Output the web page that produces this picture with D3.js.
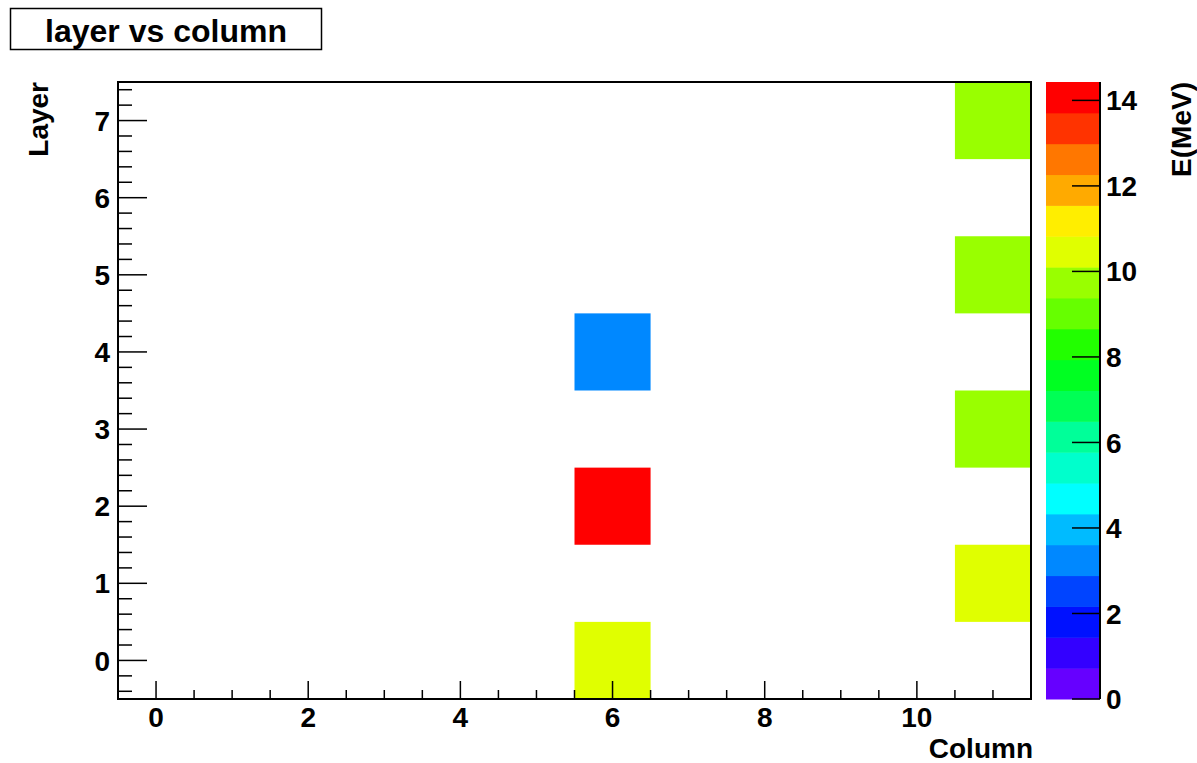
<!DOCTYPE html>
<html>
<head>
<meta charset="utf-8">
<script src="https://cdn.jsdelivr.net/npm/d3@7"></script>
<style>
  body { margin: 0; background: #fff; }
  svg text { font-family: "Liberation Sans", Arial, sans-serif; font-weight: bold; fill: #000; }
</style>
</head>
<body>
<div class="visual"></div>
<script>
// hits: column, layer, energy (MeV)
const columns = [6, 6, 6, 11, 11, 11, 11];
const layers = [0, 2, 4, 1, 3, 5, 7];
const energies = [10.4, 14.43, 3.2, 10.5, 9.8, 9.7, 9.9];

const xTicks = [0, 2, 4, 6, 8, 10];
const yTicks = [0, 1, 2, 3, 4, 5, 6, 7];
const zTicks = [0, 2, 4, 6, 8, 10, 12, 14];

// 20 contour colours, lowest first
const palette = [
    "#6600ff", "#3300ff", "#0011ff", "#0044ff", "#0088ff",
    "#00bbff", "#00ffff", "#00ffcc", "#00ff99", "#00ff55",
    "#00ff22", "#22ff00", "#66ff00", "#99ff00", "#e0ff00",
    "#ffee00", "#ffaa00", "#ff7700", "#ff3300", "#ff0000"
];

const W = 1197, H = 763;
const frame = { left: 118, right: 1031, top: 82, bottom: 699 };
const bar = { left: 1046, right: 1100 };

const svg = d3.select(".visual").append("svg")
    .attr("width", W)
    .attr("height", H);

const x = d3.scaleLinear().domain([-0.5, 11.5]).range([frame.left, frame.right]);
const y = d3.scaleLinear().domain([-0.5, 7.5]).range([frame.bottom, frame.top]);
const zMax = d3.max(energies);
const z = d3.scaleLinear().domain([0, zMax]).range([frame.bottom, frame.top]);

function colorOf(v) {
    let i = Math.floor(v / zMax * palette.length);
    if (i >= palette.length) i = palette.length - 1;
    return palette[i];
}

const cells = columns.map((c, i) => ({ col: c, layer: layers[i], e: energies[i] }));

// cells
svg.append("g").selectAll("rect")
    .data(cells)
    .enter()
    .append("rect")
    .attr("x", d => x(d.col - 0.5))
    .attr("y", d => y(d.layer + 0.5))
    .attr("width", d => x(d.col + 0.5) - x(d.col - 0.5))
    .attr("height", d => y(d.layer - 0.5) - y(d.layer + 0.5))
    .attr("fill", d => colorOf(d.e));

// x axis ticks
const xMinor = d3.range(-0.5, 11.5001, 0.5).filter(v => !xTicks.includes(v) && v > -0.5 && v < 11.5);
const gx = svg.append("g");
gx.selectAll("line.minor").data(xMinor).enter().append("line")
    .attr("x1", d => x(d)).attr("x2", d => x(d))
    .attr("y1", frame.bottom).attr("y2", frame.bottom - 9)
    .attr("stroke", "#000").attr("stroke-width", 1.5);
gx.selectAll("line.major").data(xTicks).enter().append("line")
    .attr("x1", d => x(d)).attr("x2", d => x(d))
    .attr("y1", frame.bottom).attr("y2", frame.bottom - 18)
    .attr("stroke", "#000").attr("stroke-width", 1.5);
gx.selectAll("text").data(xTicks).enter().append("text")
    .attr("x", d => x(d))
    .attr("y", 727)
    .attr("text-anchor", "middle")
    .style("font-size", "28px")
    .text(d => d);

// y axis ticks
const yMinor = d3.range(-4, 75, 2).map(v => v / 10).filter(v => !yTicks.includes(v));
const gy = svg.append("g");
gy.selectAll("line.minor").data(yMinor).enter().append("line")
    .attr("x1", frame.left).attr("x2", frame.left + 14)
    .attr("y1", d => y(d)).attr("y2", d => y(d))
    .attr("stroke", "#000").attr("stroke-width", 1.5);
gy.selectAll("line.major").data(yTicks).enter().append("line")
    .attr("x1", frame.left).attr("x2", frame.left + 29)
    .attr("y1", d => y(d)).attr("y2", d => y(d))
    .attr("stroke", "#000").attr("stroke-width", 1.5);
gy.selectAll("text").data(yTicks).enter().append("text")
    .attr("x", 110)
    .attr("y", d => y(d))
    .attr("dy", "0.36em")
    .attr("text-anchor", "end")
    .style("font-size", "28px")
    .text(d => d);

// frame
svg.append("rect")
    .attr("x", frame.left).attr("y", frame.top)
    .attr("width", frame.right - frame.left)
    .attr("height", frame.bottom - frame.top)
    .attr("fill", "none")
    .attr("stroke", "#000")
    .attr("stroke-width", 2);

// colour bar
const bandH = (frame.bottom - frame.top) / palette.length;
svg.append("g").selectAll("rect")
    .data(palette)
    .enter()
    .append("rect")
    .attr("x", bar.left)
    .attr("y", (d, i) => frame.bottom - (i + 1) * bandH)
    .attr("width", bar.right - bar.left)
    .attr("height", bandH + 0.5)
    .attr("fill", d => d);

svg.append("line")
    .attr("x1", bar.right).attr("x2", bar.right)
    .attr("y1", frame.top).attr("y2", frame.bottom)
    .attr("stroke", "#000").attr("stroke-width", 2);

const gz = svg.append("g");
gz.selectAll("line").data(zTicks).enter().append("line")
    .attr("x1", bar.right - 28).attr("x2", bar.right)
    .attr("y1", d => z(d)).attr("y2", d => z(d))
    .attr("stroke", "#000").attr("stroke-width", 1.5);
gz.selectAll("text").data(zTicks).enter().append("text")
    .attr("x", 1106)
    .attr("y", d => z(d))
    .attr("dy", "0.36em")
    .style("font-size", "28px")
    .text(d => d);

// axis titles
svg.append("text")
    .attr("x", frame.right + 2)
    .attr("y", 758)
    .attr("text-anchor", "end")
    .style("font-size", "28px")
    .text("Column");

svg.append("text")
    .attr("transform", `translate(48, ${frame.top}) rotate(-90)`)
    .attr("text-anchor", "end")
    .style("font-size", "28px")
    .text("Layer");

svg.append("text")
    .attr("transform", `translate(1191, ${frame.top}) rotate(-90)`)
    .attr("text-anchor", "end")
    .style("font-size", "28px")
    .text("E(MeV)");

// title box
svg.append("rect")
    .attr("x", 10.5).attr("y", 8.5)
    .attr("width", 311).attr("height", 41)
    .attr("fill", "#fff")
    .attr("stroke", "#000")
    .attr("stroke-width", 1.5);
svg.append("text")
    .attr("x", 166)
    .attr("y", 42)
    .attr("text-anchor", "middle")
    .style("font-size", "32px")
    .text("layer vs column");
</script>
</body>
</html>
